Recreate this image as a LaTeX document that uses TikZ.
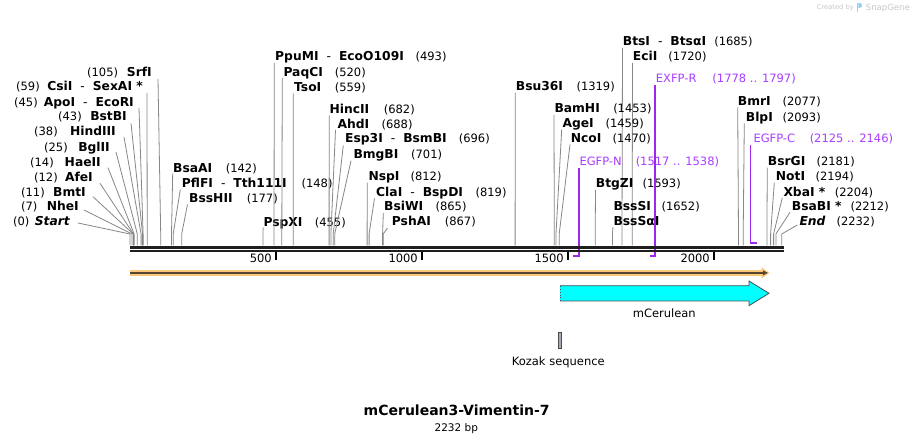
\documentclass[tikz,border=0pt]{standalone}
\usepackage{fontspec}
\setmainfont{DejaVu Sans}
\definecolor{cutgray}{RGB}{135,135,135}
\definecolor{primerline}{RGB}{155,40,235}
\definecolor{primertext}{RGB}{170,60,255}
\definecolor{rulerblack}{RGB}{30,30,30}
\definecolor{orfbar}{RGB}{250,200,120}
\definecolor{orfline}{RGB}{85,70,50}
\definecolor{featcyan}{RGB}{0,255,255}
\definecolor{featedge}{RGB}{70,80,90}
\definecolor{kozakfill}{RGB}{170,170,180}
\definecolor{logogray}{RGB}{200,200,200}
\definecolor{logoblue}{RGB}{150,210,240}
\tikzset{
  enz/.style={font=\fontsize{12.3}{14}\selectfont\bfseries, inner sep=0pt},
  num/.style={font=\fontsize{11.5}{14}\selectfont, inner sep=0pt},
  ptxt/.style={font=\fontsize{11.5}{14}\selectfont, text=primertext, inner sep=0pt},
  plain/.style={font=\fontsize{11.5}{14}\selectfont, inner sep=0pt},
  cut/.style={draw=cutgray, line width=0.8pt},
  primer/.style={draw=primerline, line width=1.2pt, line join=miter},
  rulerline/.style={draw=rulerblack},
  tickmark/.style={draw=black, line width=1.6pt},
  featedgestyle/.style={draw=featedge, line width=0.8pt, line join=miter},
}
\newcommand\hsep{{\mdseries\hspace{8pt}-\hspace{8pt}}}
% left label: id, number, num x, name, name end x, y centre, top x, top y, site x
\newcommand\LeftCut[9]{%
  \node[num,anchor=base west] (#1n) at (#3,#6+4) {#2};
  \node[enz,anchor=base east] (#1) at (#5,#6+4) {#4};
  \coordinate (#1t) at (#7,#8);
  \coordinate (#1k) at (#9,234);
  \coordinate (#1b) at (#9,245.5);
  \draw[cut] (#1t) -- (#1k) -- (#1b);
}
% right label: id, name, name x, number, num end x, y centre, top x, top y, site x
\newcommand\RightCut[9]{%
  \node[enz,anchor=base west] (#1) at (#3,#6+4) {#2};
  \node[num,anchor=base east] (#1n) at (#5,#6+4) {#4};
  \coordinate (#1t) at (#7,#8);
  \coordinate (#1k) at (#9,234);
  \coordinate (#1b) at (#9,245.5);
  \draw[cut] (#1t) -- (#1k) -- (#1b);
}
\begin{document}
\begin{tikzpicture}[x=1pt,y=-1pt]
\useasboundingbox (0,0) rectangle (914,443);
\fill[white] (0,0) rectangle (914,443);

% logo
\node[font=\fontsize{6.7}{8}\selectfont, text=logogray, inner sep=0pt, anchor=base west] (logoa) at (816.7,10) {Created by};
\fill[logoblue] (856.5,2.8) rectangle (858.3,11.8);
\fill[logoblue] (858.3,2.8) -- (859.5,2.8) arc[start angle=90, end angle=-90, radius=2.6pt] -- (858.3,8) -- cycle;
\node[font=\fontsize{8.5}{10}\selectfont, text=logogray, inner sep=0pt, anchor=base west] (logob) at (865.7,10.5) {SnapGene};

% left-hand labels
\LeftCut{srf}{(105)}{87}{SrfI}{152}{72.7}{158}{79}{160.7}
\LeftCut{csi}{(59)}{16}{CsiI\hsep SexAI *}{143}{86.7}{147}{93}{147.2}
\LeftCut{apo}{(45)}{14}{ApoI\hsep EcoRI}{134}{102.3}{139}{108}{143.1}
\LeftCut{bstb}{(43)}{58}{BstBI}{127}{116.7}{131}{123.3}{142.6}
\LeftCut{hind}{(38)}{34}{HindIII}{116}{131.7}{124}{137}{141.1}
\LeftCut{bgl}{(25)}{44}{BglII}{110}{147.3}{116}{152}{137.3}
\LeftCut{hae}{(14)}{30}{HaeII}{101}{162.3}{108}{167.7}{134.1}
\LeftCut{afe}{(12)}{34}{AfeI}{93}{177.3}{100}{183.3}{133.5}
\LeftCut{bmt}{(11)}{21}{BmtI}{86}{192.3}{93}{196.7}{133.2}
\LeftCut{nhe}{(7)}{21}{NheI}{79}{206.7}{84}{210}{132}
\LeftCut{startp}{(0)}{13}{\itshape Start}{70}{222}{78}{223}{130}

% right-hand labels
\RightCut{bsaa}{BsaAI}{173}{(142)}{257}{168.3}{172.7}{173.5}{171.5}
\RightCut{pflf}{PflFI\hsep Tth111I}{181.7}{(148)}{332.7}{183.3}{180.3}{189.5}{173.2}
\RightCut{bssh}{BssHII}{189}{(177)}{278}{198.3}{187.5}{204.5}{181.7}
\RightCut{pspx}{PspXI}{263.3}{(455)}{346}{222.3}{263.2}{227.5}{262.9}
\RightCut{ppum}{PpuMI\hsep EcoO109I}{275}{(493)}{446.7}{56.7}{274.3}{63}{274}
\RightCut{paqc}{PaqCI}{283.3}{(520)}{366}{72.3}{282.3}{78}{281.8}
\RightCut{tso}{TsoI}{294}{(559)}{366}{87.3}{293.3}{93.5}{293.2}
\RightCut{hinc}{HincII}{329.3}{(682)}{415}{109.3}{329.2}{115.3}{329.1}
\RightCut{ahd}{AhdI}{337.3}{(688)}{412.7}{124.3}{335.5}{130}{330.9}
\RightCut{esp}{Esp3I\hsep BsmBI}{345}{(696)}{490}{139}{343.3}{145.5}{333.2}
\RightCut{bmgb}{BmgBI}{353.3}{(701)}{442.3}{154.3}{351}{160.7}{334.7}
\RightCut{nsp}{NspI}{368.3}{(812)}{441.7}{176.7}{367.3}{182.7}{367.1}
\RightCut{cla}{ClaI\hsep BspDI}{376}{(819)}{506.7}{192.3}{374.5}{198.3}{369.1}
\RightCut{bsiw}{BsiWI}{384}{(865)}{466.7}{206.7}{383.3}{213}{382.6}
\RightCut{psha}{PshAI}{391.7}{(867)}{476}{221.7}{387.5}{228}{383.2}
\RightCut{bsu}{Bsu36I}{515.7}{(1319)}{615}{86.7}{515.3}{92.7}{515.1}
\RightCut{bts}{BtsI\hsep BtsαI}{622.7}{(1685)}{752.7}{41.7}{622.5}{48}{622}
\RightCut{eci}{EciI}{632.7}{(1720)}{706.7}{56.7}{632.5}{63}{632.2}
\RightCut{bamh}{BamHI}{554.3}{(1453)}{651.7}{109}{554}{115}{554.3}
\RightCut{age}{AgeI}{562.3}{(1459)}{644}{124}{561.7}{129.5}{556}
\RightCut{nco}{NcoI}{570.7}{(1470)}{651}{138.7}{570}{144.5}{559.2}
\RightCut{btgz}{BtgZI}{595.7}{(1593)}{681}{184}{595.5}{190}{595.2}
\RightCut{bsss}{BssSI}{613.3}{(1652)}{700}{206.7}{613}{227}{612.4}
\node[enz,anchor=base west] (bsssa) at (613.3,225.7) {BssSαI};
\RightCut{bmr}{BmrI}{737.7}{(2077)}{821}{101.7}{737.7}{107.3}{738.5}
\RightCut{blp}{BlpI}{745.7}{(2093)}{821}{117.3}{744.3}{123.3}{743.2}
\RightCut{bsrg}{BsrGI}{767.7}{(2181)}{855}{161.7}{767.3}{167.7}{766.9}
\RightCut{notI}{NotI}{775.7}{(2194)}{854}{176.7}{774.3}{182.7}{770.6}
\RightCut{xba}{XbaI *}{783.3}{(2204)}{873.3}{192.3}{782.3}{197.7}{773.6}
\RightCut{bsab}{BsaBI *}{791.7}{(2212)}{889}{206.7}{790}{212.3}{775.9}
\RightCut{endp}{\itshape End}{799.3}{(2232)}{875}{221.7}{797.3}{225}{781.7}

% primers
\node[ptxt,anchor=base west] (exfpr) at (655.7,83) {EXFP-R};
\node[ptxt,anchor=base east] (exfprn) at (796,83) {(1778 .. 1797)};
\coordinate (exfprt) at (655,85.5);
\coordinate (exfprb) at (655,256);
\coordinate (exfprh) at (649.5,256);
\draw[primer] (exfprt) -- (exfprb) -- (exfprh);

\node[ptxt,anchor=base west] (egfpn) at (579.3,165.7) {EGFP-N};
\node[ptxt,anchor=base east] (egfpnn) at (719.3,165.7) {(1517 .. 1538)};
\coordinate (egfpnt) at (579,168);
\coordinate (egfpnb) at (579,256);
\coordinate (egfpnh) at (573,256);
\draw[primer] (egfpnt) -- (egfpnb) -- (egfpnh);

\node[ptxt,anchor=base west] (egfpc) at (753.3,143) {EGFP-C};
\node[ptxt,anchor=base east] (egfpcn) at (893.3,143) {(2125 .. 2146)};
\coordinate (egfpct) at (750.5,145.5);
\coordinate (egfpcb) at (750.5,243);
\coordinate (egfpch) at (756.5,243);
\draw[primer] (egfpct) -- (egfpcb) -- (egfpch);

% ruler
\draw[rulerline, line width=2.7pt] (130,247.3) -- (784,247.3);
\draw[rulerline, line width=2.3pt] (130,251.2) -- (784,251.2);
\foreach \tx/\tl/\tn in {276/500/ta,422/1000/tb,568/1500/tc,714/2000/td}{
  \draw[tickmark] (\tx,252) -- (\tx,260);
  \node[plain,anchor=base east] (\tn) at (\tx-4,263) {\tl};
}

% orange ORF bar
\fill[orfbar] (130,270) rectangle (762,275.7);
\fill[orfbar] (761.5,267.3) -- (769.3,272.9) -- (761.5,278.5) -- cycle;
\draw[orfline, line width=1.8pt] (130,272.9) -- (764,272.9);
\fill[orfline] (763,270.4) -- (767.8,272.9) -- (763,275.4) -- cycle;

% mCerulean feature
\fill[featcyan] (560,285.7) -- (749,285.7) -- (749,281) -- (769,293.3) -- (749,305.7) -- (749,301) -- (560,301) -- cycle;
\draw[featedgestyle] (560,285.7) -- (749,285.7) -- (749,281) -- (769,293.3) -- (749,305.7) -- (749,301) -- (560,301);
\draw[featedgestyle, dotted] (560,301) -- (560,285.7);
\node[plain,anchor=base] (mcer) at (664.3,318) {mCerulean};

% Kozak
\draw[fill=kozakfill, draw=black!70, line width=0.7pt] (558.3,332.3) rectangle (561.7,348.3);
\node[plain,anchor=base] (kozak) at (558.3,366) {Kozak sequence};

% title
\node[font=\fontsize{14}{16}\selectfont\bfseries, inner sep=0pt, anchor=base] (title) at (456.7,416) {mCerulean3-Vimentin-7};
\node[font=\fontsize{10.5}{12}\selectfont, inner sep=0pt, anchor=base] (bp) at (456.3,432) {2232 bp};
\end{tikzpicture}
\end{document}
